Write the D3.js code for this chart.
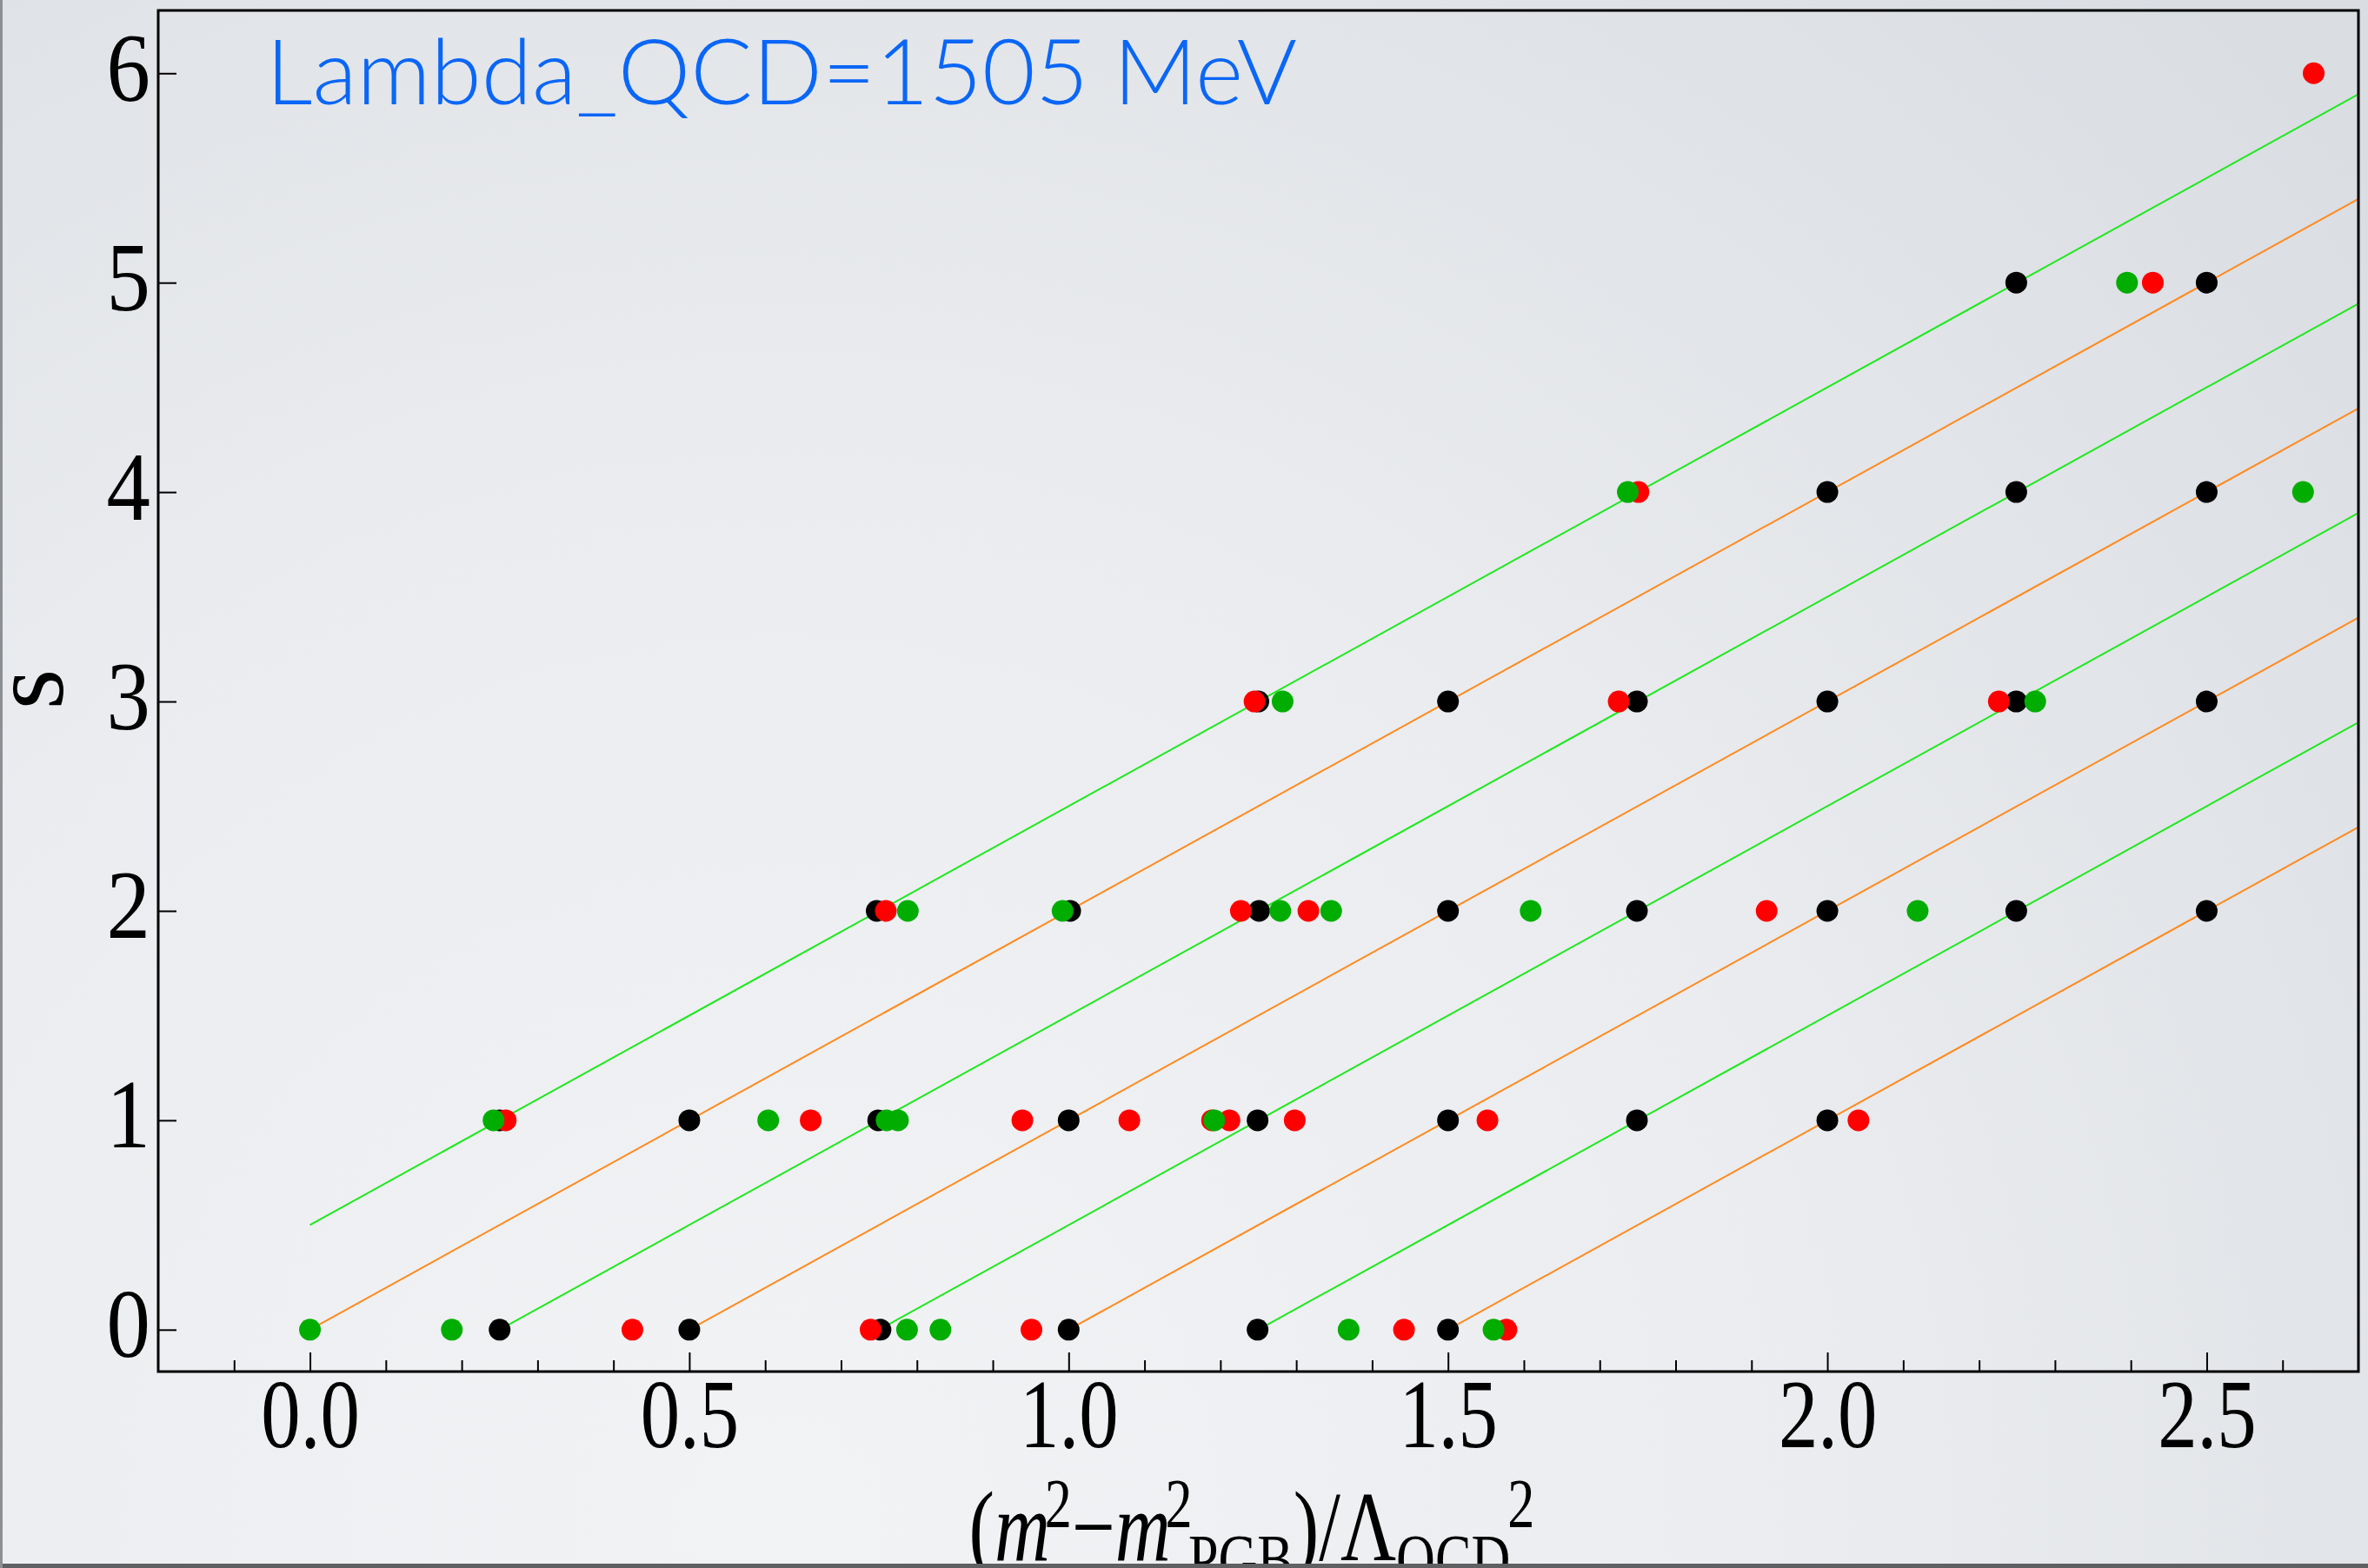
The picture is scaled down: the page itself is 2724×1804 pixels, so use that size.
<!DOCTYPE html>
<html>
<head>
<meta charset="utf-8">
<script src="https://cdn.jsdelivr.net/npm/d3@7"></script>
<style>
  html, body { margin: 0; padding: 0; overflow: hidden; background: #e6e8ec; }
  .tick text { font-family: "Liberation Serif", "DejaVu Serif", serif; fill: #000; }
</style>
</head>
<body>
<div id="chart"></div>
<script>
// Regge-like trajectories: s vs (m^2 - m^2_PGB)/Lambda_QCD^2

// ---- data ----
const xMajorTicks = [0.0, 0.5, 1.0, 1.5, 2.0, 2.5];
const xMinorTicks = [-0.1, 0.1, 0.2, 0.3, 0.4, 0.6, 0.7, 0.8, 0.9, 1.1, 1.2, 1.3, 1.4,
  1.6, 1.7, 1.8, 1.9, 2.1, 2.2, 2.3, 2.4, 2.6];
const yTicks = [0, 1, 2, 3, 4, 5, 6];

// trajectories s = slope * (x - x0), drawn from x = max(x0, 0)
const slope = 2;
const greenLineX0 = [-0.25, 0.25, 0.75, 1.25];
const orangeLineX0 = [0, 0.5, 1.0, 1.5];

// dot x positions, one array per row s = 0,1,2,...
const blackRows = [
  [0.25, 0.5, 0.752, 1.0, 1.249, 1.5],
  [0.25, 0.5, 0.749, 1.0, 1.249, 1.5, 1.749, 2.0],
  [0.747, 1.002, 1.251, 1.5, 1.749, 2.0, 2.249, 2.5],
  [1.25, 1.5, 1.749, 2.0, 2.249, 2.5],
  [2.0, 2.249, 2.5],
  [2.249, 2.5],
  [],
];
const redRows = [
  [0.425, 0.739, 0.951, 1.442, 1.577],
  [0.258, 0.660, 0.939, 1.080, 1.189, 1.212, 1.298, 1.552, 2.041],
  [0.759, 1.227, 1.316, 1.920],
  [1.245, 1.725, 2.226],
  [1.751],
  [2.429],
  [2.641],
];
const greenRows = [
  [0.0, 0.187, 0.787, 0.831, 1.369, 1.560],
  [0.242, 0.604, 0.760, 0.775, 1.192],
  [0.788, 0.992, 1.279, 1.346, 1.609, 2.119],
  [1.282, 2.274],
  [1.737, 2.627],
  [2.395],
  [],
];

const noteText = "Lambda_QCD=1505 MeV";

// ---- layout ----
const W = 2724, H = 1804;
const margin = { top: 12, right: 11, bottom: 226, left: 182 },
  width = W - margin.left - margin.right,
  height = H - margin.top - margin.bottom;

const svgRoot = d3
  .select("#chart")
  .append("svg")
  .attr("width", W)
  .attr("height", H)
  .style("display", "block");

// slide-like background
const defs = svgRoot.append("defs");
const grad = defs
  .append("radialGradient")
  .attr("id", "bg")
  .attr("gradientUnits", "userSpaceOnUse")
  .attr("cx", 900)
  .attr("cy", 1750)
  .attr("r", 2400);
grad.append("stop").attr("offset", "0%").attr("stop-color", "#f2f3f5");
grad.append("stop").attr("offset", "50%").attr("stop-color", "#eaecef");
grad.append("stop").attr("offset", "100%").attr("stop-color", "#dadde2");

defs
  .append("clipPath")
  .attr("id", "plotclip")
  .append("rect")
  .attr("width", width)
  .attr("height", height);

svgRoot.append("rect").attr("width", W).attr("height", H).attr("fill", "url(#bg)");

const svg = svgRoot
  .append("g")
  .attr("transform", `translate(${margin.left},${margin.top})`);

// scales
const x = d3.scaleLinear().domain([-0.2, 2.7]).range([0, width]);
const y = d3.scaleLinear().domain([-0.2, 6.3]).range([height, 0]);

// ---- trajectories ----
const lines = svg.append("g").attr("clip-path", "url(#plotclip)");
function drawLines(x0s, color) {
  lines
    .selectAll(null)
    .data(x0s)
    .enter()
    .append("line")
    .attr("x1", (d) => x(Math.max(d, 0)))
    .attr("y1", (d) => y(slope * (Math.max(d, 0) - d)))
    .attr("x2", x(2.7))
    .attr("y2", (d) => y(slope * (2.7 - d)))
    .attr("stroke", color)
    .attr("stroke-width", 2);
}
drawLines(greenLineX0, "#1ee81e");
drawLines(orangeLineX0, "#ff8a1e");

// ---- dots (black, then red, then green on top) ----
const series = [
  { color: "#000000", rows: blackRows },
  { color: "#ff0000", rows: redRows },
  { color: "#00ad00", rows: greenRows },
];
series.forEach((sr) => {
  const pts = sr.rows.flatMap((xs, s) => xs.map((v) => ({ x: v, s: s })));
  svg
    .append("g")
    .selectAll("circle")
    .data(pts)
    .enter()
    .append("circle")
    .attr("cx", (d) => x(d.x))
    .attr("cy", (d) => y(d.s))
    .attr("r", 12.5)
    .attr("fill", sr.color);
});

// ---- axes ----
const xAxis = svg
  .append("g")
  .attr("transform", `translate(0,${height})`)
  .call(
    d3.axisBottom(x)
      .tickValues(xMajorTicks)
      .tickSize(-22)
      .tickFormat(d3.format(".1f"))
  );
xAxis.select(".domain").remove();
xAxis.selectAll(".tick line").attr("stroke", "#000").attr("stroke-width", 2);
xAxis
  .selectAll(".tick text")
  .attr("y", 0)
  .attr("dy", 0)
  .attr("transform", "translate(0,87) scale(0.81,1)")
  .style("font-size", "112px");

const xMinor = svg
  .append("g")
  .attr("transform", `translate(0,${height})`)
  .call(d3.axisBottom(x).tickValues(xMinorTicks).tickSize(-13).tickFormat(""));
xMinor.select(".domain").remove();
xMinor.selectAll(".tick line").attr("stroke", "#000").attr("stroke-width", 2);

const yAxis = svg
  .append("g")
  .call(
    d3.axisLeft(y)
      .tickValues(yTicks)
      .tickSize(-21)
      .tickPadding(9)
      .tickFormat(d3.format("d"))
  );
yAxis.select(".domain").remove();
yAxis.selectAll(".tick line").attr("stroke", "#000").attr("stroke-width", 2);
yAxis
  .selectAll(".tick text")
  .attr("x", 0)
  .attr("dy", 0)
  .attr("transform", "translate(-9,31) scale(0.9,1)")
  .style("font-size", "112px");

// frame
svg
  .append("rect")
  .attr("width", width)
  .attr("height", height)
  .attr("fill", "none")
  .attr("stroke", "#000")
  .attr("stroke-width", 3);

// ---- texts ----
svg
  .append("text")
  .attr("x", 306 - margin.left)
  .attr("y", 120 - margin.top)
  .attr("textLength", 1186)
  .attr("lengthAdjust", "spacingAndGlyphs")
  .style("font-family", "'Gill Sans', Lato, 'Open Sans', sans-serif")
  .style("font-weight", 300)
  .style("font-size", "104px")
  .attr("fill", "#0a66f7")
  .text(noteText);

// y label "s"
svgRoot
  .append("text")
  .attr("transform", "translate(72,793) rotate(-90)")
  .attr("text-anchor", "middle")
  .style("font-family", "'Liberation Serif', serif")
  .style("font-size", "120px")
  .text("s");

// x label (m^2 - m^2_PGB)/Lambda_QCD^2
const xl = svgRoot
  .append("text")
  .style("font-family", "'Liberation Serif', serif")
  .style("font-size", "114px")
  .attr("fill", "#000");
xl.append("tspan").text("(");
xl.append("tspan").style("font-style", "italic").text("m");
xl.append("tspan").attr("dy", -38).attr("dx", -8).style("font-size", "80px").text("2");
xl.append("tspan").attr("dy", 38).text("\u2212");
xl.append("tspan").style("font-style", "italic").text("m");
xl.append("tspan").attr("dy", -38).attr("dx", -8).style("font-size", "80px").text("2");
xl.append("tspan").attr("dy", 64).attr("dx", -6).style("font-size", "80px").text("PGB");
xl.append("tspan").attr("dy", -26).text(")/\u039B");
xl.append("tspan").attr("dy", 26).style("font-size", "80px").text("QCD");
xl.append("tspan").attr("dy", -64).attr("dx", -4).style("font-size", "80px").text("2");

const xlWidth = xl.node().getComputedTextLength();
const targetW = 671;
const sx = targetW / xlWidth;
xl.attr("transform", `translate(${1450 - targetW / 2},1795) scale(${sx},1)`);

// slide borders
svgRoot.append("rect").attr("x", 0).attr("y", 1799).attr("width", W).attr("height", 5).attr("fill", "#5e6062");
svgRoot.append("rect").attr("x", 0).attr("y", 0).attr("width", 3).attr("height", H).attr("fill", "#8c8f93");
</script>
</body>
</html>
